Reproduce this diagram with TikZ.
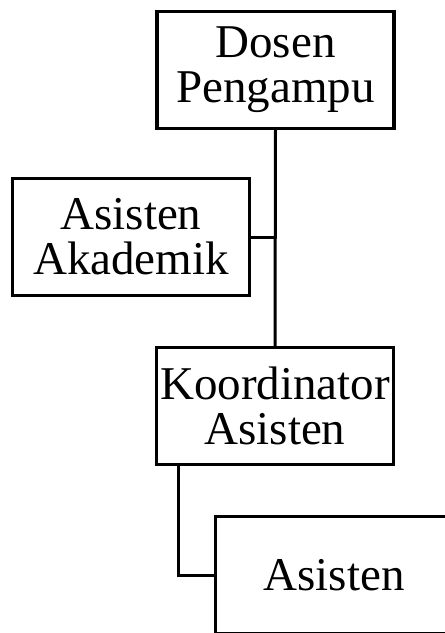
\documentclass[tikz,border=0pt]{standalone}
\usepackage{fontspec}
\setmainfont{Liberation Serif}
\usepackage{tikz}
\usetikzlibrary{calc}

\begin{document}
\begin{tikzpicture}[
	x=1pt, y=-1pt,
	box/.style={draw, line width=3.4pt, minimum width=237pt, minimum height=117pt, align=center, inner sep=0pt, font=\fontsize{47}{45}\selectfont},
	link/.style={line width=3pt}
	]

	\def\W{445} % picture width
	\def\H{633} % picture height

	\clip (0,0) rectangle (\W,\H);
	\useasboundingbox (0,0) rectangle (\W,\H);

	% boxes
	\node[box] (dosen) at (275.5,70) {Dosen\\Pengampu};
	\node[box] (akademik) at (131,237) {Asisten\\Akademik};
	\node[box] (koordinator) at (275,406) {Koordinator\\Asisten};
	\node[box] (asisten) at (334,575) {Asisten};

	% connectors
	\draw[link] (dosen.south) -- (koordinator.north);
	\draw[link] (akademik.east) -- (akademik.east -| dosen.south);
	\coordinate (down) at ($(koordinator.south west)+(24,0)$);
	\draw[link] (down) |- (asisten.west);

\end{tikzpicture}
\end{document}
